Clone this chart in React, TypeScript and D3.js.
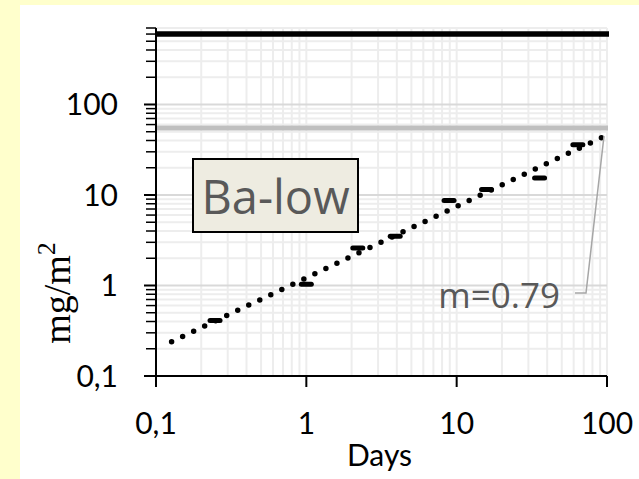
import React from 'react';
import * as d3 from 'd3';

// measured points (days, mg/m2)
const days = [0.247, 1.0, 2.2, 3.9, 8.9, 15.8, 35.6, 64];
const mgm2 = [0.41, 1.03, 2.6, 3.5, 8.7, 11.5, 15.4, 36];

// power-law trend line ends
const trendDays = [0.127, 100];
const trendMg = [0.239, 46];

// reference levels
const upperLevel = 600;
const lowerLevel = 55;

const xTicks = [0.1, 1, 10, 100];
const xTickLabels = ['0,1', '1', '10', '100'];
const yTicks = [0.1, 1, 10, 100];
const yTickLabels = ['0,1', '1', '10', '100'];

const panelLabel = 'Ba-low';
const slopeLabel = 'm=0.79';

const W = 639;
const H = 479;
const left = 156;
const right = 607;
const top = 28;
const bottom = 376;

const tickFont = 'Lato, "Open Sans", sans-serif';

function minorValues(lo: number, hi: number) {
  const out: number[] = [];
  for (let d = lo; d < hi; d *= 10) {
    for (let k = 2; k <= 9; k++) {
      const v = +(d * k).toPrecision(3);
      if (v <= hi) out.push(v);
    }
  }
  return out;
}

export default function App() {
  const x = d3.scaleLog().domain([0.1, 100]).range([left, right]);
  const y = d3.scaleLog().domain([0.1, 700]).range([bottom, top]);

  const xMinor = minorValues(0.1, 100).concat([1, 10, 100]);
  const yMinor = minorValues(0.1, 700);
  const yMajor = [1, 10, 100];

  const trend = d3.line<number>()
    .x((d, i) => x(trendDays[i]))
    .y(d => y(d));

  const trendEnd = [x(trendDays[1]), y(trendMg[1])];
  const slopeX = 560;
  const slopeY = 308;

  return (
    <svg width={W} height={H} style={{ position: 'absolute', left: 0, top: 0 }}>
      <rect x={0} y={0} width={W} height={H} fill="#FFFFCC" />
      <rect x={20} y={5} width={W - 20} height={H - 5} fill="#ffffff" />

      {/* gridlines */}
      <g>
        {xMinor.map((v, i) => (
          <line key={'xv' + i} x1={x(v)} x2={x(v)} y1={top} y2={bottom} stroke="#ededed" strokeWidth={2} />
        ))}
        {yMinor.map((v, i) => (
          <line key={'yh' + i} x1={left} x2={right} y1={y(v)} y2={y(v)} stroke="#ededed" strokeWidth={2} />
        ))}
        {yMajor.map((v, i) => (
          <line key={'ym' + i} x1={left} x2={right} y1={y(v)} y2={y(v)} stroke="#d9d9d9" strokeWidth={2} />
        ))}
      </g>

      {/* reference levels */}
      <line x1={left} x2={right + 2} y1={y(upperLevel)} y2={y(upperLevel)} stroke="#000" strokeWidth={5.5} />
      <line x1={left} x2={right + 1} y1={y(lowerLevel)} y2={y(lowerLevel)} stroke="#bfbfbf" strokeWidth={5} />

      {/* axes */}
      <line x1={left} x2={left} y1={top} y2={bottom + 1} stroke="#000" strokeWidth={2} />
      <line x1={left - 12} x2={right} y1={bottom} y2={bottom} stroke="#000" strokeWidth={2} />
      {yMinor.map((v, i) => (
        <line key={'ymt' + i} x1={left - 10} x2={left} y1={y(v)} y2={y(v)} stroke="#000" strokeWidth={1.5} />
      ))}
      {yTicks.map((v, i) => (
        <g key={'yt' + i}>
          <line x1={left - 12} x2={left} y1={y(v)} y2={y(v)} stroke="#000" strokeWidth={2} />
          <text x={118} y={y(v)} dy="0.36em" textAnchor="end" fontFamily={tickFont} fontSize={30} fill="#000">
            {yTickLabels[i]}
          </text>
        </g>
      ))}
      {xTicks.map((v, i) => (
        <g key={'xt' + i}>
          <line x1={x(v)} x2={x(v)} y1={bottom} y2={bottom + 11} stroke="#000" strokeWidth={2} />
          <text x={x(v)} y={434} textAnchor="middle" fontFamily={tickFont} fontSize={30} fill="#000">
            {xTickLabels[i]}
          </text>
        </g>
      ))}

      <text x={(left + right) / 2 - 2} y={466} textAnchor="middle" fontFamily={tickFont} fontSize={30} fill="#000">
        Days
      </text>
      <text
        transform={`translate(70, ${(top + bottom) / 2 + 91}) rotate(-90)`}
        textAnchor="middle"
        fontFamily='"Liberation Serif", "DejaVu Serif", serif'
        fontSize={38}
        fill="#000"
      >
        mg/m<tspan dy={-15} fontSize={26}>2</tspan>
      </text>

      {/* trend */}
      <path d={trend(trendMg) || ''} fill="none" stroke="#000" strokeWidth={5.5}
        strokeLinecap="round" strokeDasharray="0 12.2" />

      {/* markers */}
      {days.map((d, i) => (
        <rect key={'m' + i} x={x(d) - 7.5} y={y(mgm2[i]) - 2.5} width={15} height={5} rx={2.5} fill="#000" />
      ))}

      {/* panel label */}
      <rect x={193} y={159} width={165} height={73} fill="#EEECE1" stroke="#000" strokeWidth={2} />
      <text x={275.5} y={214} textAnchor="middle" fontFamily='"Open Sans", sans-serif' fontSize={47} fill="#595959">
        {panelLabel}
      </text>

      {/* slope callout */}
      <polyline
        points={`${slopeX + 15},${slopeY - 15} ${slopeX + 26},${slopeY - 15} ${trendEnd[0] - 3},${trendEnd[1] + 1}`}
        fill="none" stroke="#a6a6a6" strokeWidth={1.5} />
      <text x={slopeX} y={slopeY} textAnchor="end" fontFamily='"Open Sans", sans-serif' fontSize={35} fill="#595959">
        {slopeLabel}
      </text>
    </svg>
  );
}
